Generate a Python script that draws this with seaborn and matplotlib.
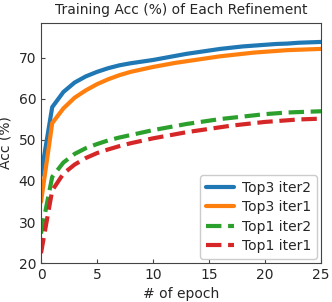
import numpy as np
import pandas as pd
import matplotlib
matplotlib.use('Agg')
import matplotlib.pyplot as plt
import seaborn as sns


# Values
EPOCHS = list(range(26))
TOP3_ITER2 = [41.4, 58.0, 61.7, 64.0, 65.5, 66.6, 67.5, 68.2, 68.7, 69.1,
              69.5, 70.0, 70.5, 71.0, 71.4, 71.8, 72.2, 72.5, 72.8, 73.0,
              73.2, 73.4, 73.5, 73.7, 73.8, 73.9]
TOP3_ITER1 = [34.9, 54.1, 57.7, 60.3, 62.1, 63.6, 64.8, 65.8, 66.6, 67.2,
              67.8, 68.3, 68.8, 69.2, 69.6, 70.0, 70.4, 70.7, 71.0, 71.3,
              71.5, 71.7, 71.9, 72.0, 72.1, 72.2]
TOP1_ITER2 = [27.2, 41.0, 44.5, 46.6, 48.0, 49.0, 49.9, 50.6, 51.2, 51.8,
              52.4, 52.9, 53.4, 53.9, 54.3, 54.7, 55.1, 55.4, 55.7, 56.0,
              56.3, 56.5, 56.7, 56.8, 56.9, 57.0]
TOP1_ITER1 = [22.4, 37.7, 41.8, 44.0, 45.6, 46.8, 47.7, 48.5, 49.2, 49.8,
              50.4, 50.9, 51.4, 51.9, 52.3, 52.7, 53.1, 53.5, 53.8, 54.1,
              54.4, 54.6, 54.8, 55.0, 55.1, 55.2]
SERIES_NAMES = ['Top3 iter2', 'Top3 iter1', 'Top1 iter2', 'Top1 iter1']

sns.set_style('ticks', {'xtick.direction': 'in', 'ytick.direction': 'in',
                        'axes.edgecolor': '#444444'})

frames = []
for name, vals in zip(SERIES_NAMES, [TOP3_ITER2, TOP3_ITER1, TOP1_ITER2, TOP1_ITER1]):
    frames.append(pd.DataFrame({'epoch': EPOCHS, 'acc': vals, 'series': name}))
df = pd.concat(frames, ignore_index=True)

colors = ['#1f77b4', '#ff7f0e', '#2ca02c', '#d62728']
styles = ['-', '-', '--', '--']

fig = plt.figure(figsize=(3.32, 3.02), dpi=100)
ax = fig.add_axes([0.1235, 0.129, 0.8435, 0.796])

for name, color, ls in zip(SERIES_NAMES, colors, styles):
    sub = df[df['series'] == name]
    sns.lineplot(data=sub, x='epoch', y='acc', ax=ax, color=color,
                 linestyle=ls, linewidth=3, label=name)

ax.set_xlim(0, 25)
ax.set_ylim(20, 78.6)
ax.set_xticks([0, 5, 10, 15, 20, 25])
ax.set_yticks([20, 30, 40, 50, 60, 70])
ax.tick_params(labelsize=10, length=3, color='#444444')
ax.set_xlabel('# of epoch', fontsize=10)
ax.set_ylabel('Acc (%)', fontsize=10)
ax.set_title('Training Acc (%) of Each Refinement', fontsize=10)
ax.legend(loc='lower right', fontsize=10, handlelength=2.0, handletextpad=0.6,
          labelspacing=0.4, borderaxespad=0.3, framealpha=1)

fig.savefig('out.png', dpi=100)
